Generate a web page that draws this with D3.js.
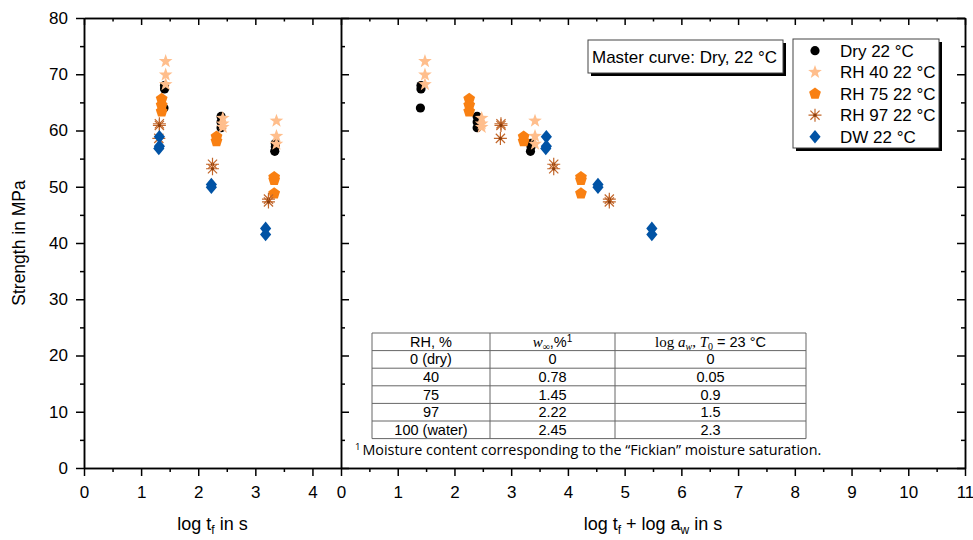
<!DOCTYPE html>
<html>
<head>
<meta charset="utf-8">
<script src="https://cdn.jsdelivr.net/npm/d3@7"></script>
<style>
  body { margin: 0; background: #fff; }
  svg { display: block; font-family: "Liberation Sans", Arial, sans-serif; }
</style>
</head>
<body>
<svg id="chart" width="973" height="540"></svg>
<script>
// ---- Data: failure time (log t_f, s) and strength (MPa) per conditioning ----
const seriesNames = ["Dry 22 °C", "RH 40 22 °C", "RH 75 22 °C", "RH 97 22 °C", "DW 22 °C"];

const dryLogT = [1.41, 1.41, 1.40, 2.40, 2.40, 2.40, 3.35, 3.35, 3.34];
const dryStrength = [68.0, 67.4, 64.0, 62.5, 61.5, 60.5, 57.7, 57.1, 56.3];

const rh40LogT = [1.43, 1.43, 1.43, 2.43, 2.43, 2.43, 3.37, 3.37, 3.37];
const rh40Strength = [72.3, 69.9, 68.2, 62.2, 61.2, 60.6, 61.7, 59.0, 57.6];

const rh75LogT = [1.36, 1.36, 1.36, 2.32, 2.32, 3.33, 3.33, 3.33];
const rh75Strength = [65.6, 64.5, 63.4, 58.9, 58.1, 51.7, 51.2, 48.8];

const rh97LogT = [1.32, 1.32, 1.31, 2.25, 2.25, 3.23, 3.23];
const rh97Strength = [61.2, 60.9, 58.6, 54.0, 53.2, 47.8, 47.3];

const dwLogT = [1.32, 1.32, 1.31, 2.23, 2.23, 3.18, 3.18];
const dwStrength = [58.9, 57.2, 56.8, 50.4, 49.9, 42.6, 41.5];

// Shift table (also printed in the inset table)
const tableRH = ["0 (dry)", "40", "75", "97", "100 (water)"];
const tableWInf = [0, 0.78, 1.45, 2.22, 2.45];
const tableLogAw = [0, 0.05, 0.9, 1.5, 2.3];

// Tick values
const yTicks = [0, 10, 20, 30, 40, 50, 60, 70, 80];
const xLeftTicks = [0, 1, 2, 3, 4];
const xRightTicks = [0, 1, 2, 3, 4, 5, 6, 7, 8, 9, 10, 11];

// ---- Styling ----
const colors = ["#000000", "#FFBE8C", "#F98012", "#C2672B", "#0153A5"];
const shapes = ["circle", "star", "pentagon", "asterisk", "diamond"];

const series = [
  { logT: dryLogT, s: dryStrength },
  { logT: rh40LogT, s: rh40Strength },
  { logT: rh75LogT, s: rh75Strength },
  { logT: rh97LogT, s: rh97Strength },
  { logT: dwLogT, s: dwStrength }
].map((d, i) => ({
  name: seriesNames[i], color: colors[i], shape: shapes[i], shift: tableLogAw[i],
  points: d.logT.map((t, j) => ({ t, v: d.s[j] }))
}));

const svg = d3.select("#chart");
const font = '"Liberation Sans", Arial, sans-serif';

const yTop = 18, yBot = 468;
const xL0 = 84, xMid = 341, xR1 = 965;

const y = d3.scaleLinear().domain([0, 80]).range([yBot, yTop]);
const xLeft = d3.scaleLinear().domain([0, 4.5]).range([xL0, xMid]);
const xRight = d3.scaleLinear().domain([0, 11]).range([xMid, xR1]);

const yMinor = d3.range(5, 80, 10);
const halfTicks = (max) => d3.range(0.5, max, 1);

function styleAxis(g, labelSize) {
  g.select(".domain").attr("stroke", "#000").attr("stroke-width", 1.5);
  g.selectAll(".tick line").attr("stroke", "#000").attr("stroke-width", 1.5);
  g.selectAll(".tick text").attr("font-family", font).attr("font-size", labelSize || 17).attr("fill", "#000");
  g.attr("font-family", font);
}

function addAxis(axisFn, scale, transform, major, minor, size, labels, pad) {
  const gMinor = svg.append("g").attr("transform", transform)
    .call(axisFn(scale).tickValues(minor).tickSizeInner(size / 2).tickSizeOuter(0).tickFormat(""));
  styleAxis(gMinor);
  const gMajor = svg.append("g").attr("transform", transform)
    .call(axisFn(scale).tickValues(major).tickSizeInner(size).tickSizeOuter(0)
      .tickPadding(pad || 8).tickFormat(labels ? d3.format("d") : ""));
  styleAxis(gMajor);
  return gMajor;
}

// Left panel axes
addAxis(d3.axisLeft, y, `translate(${xL0},0)`, yTicks, yMinor, 8, true, 8);
addAxis(d3.axisBottom, xLeft, `translate(0,${yBot})`, xLeftTicks, halfTicks(4.5), 8, true, 10);
addAxis(d3.axisTop, xLeft, `translate(0,${yTop})`, xLeftTicks, halfTicks(4.5), -7, false);

// Right panel axes (shared y at the divider, ticks inward)
addAxis(d3.axisRight, y, `translate(${xMid},0)`, yTicks, yMinor, 8, false);
addAxis(d3.axisLeft, y, `translate(${xR1},0)`, yTicks, yMinor, 8, false);
addAxis(d3.axisBottom, xRight, `translate(0,${yBot})`, xRightTicks, halfTicks(11), 8, true, 10);
addAxis(d3.axisTop, xRight, `translate(0,${yTop})`, xRightTicks, halfTicks(11), -7, false);

// ---- Marker shapes ----
function shapePath(shape) {
  const p = d3.path();
  if (shape === "circle") {
    p.arc(0, 0, 4.6, 0, 2 * Math.PI);
  } else if (shape === "star") {
    for (let k = 0; k < 10; k++) {
      const r = k % 2 ? 2.9 : 7.2;
      const a = -Math.PI / 2 + k * Math.PI / 5;
      k ? p.lineTo(r * Math.cos(a), r * Math.sin(a)) : p.moveTo(r * Math.cos(a), r * Math.sin(a));
    }
    p.closePath();
  } else if (shape === "pentagon") {
    for (let k = 0; k < 5; k++) {
      const a = -Math.PI / 2 + k * 2 * Math.PI / 5;
      k ? p.lineTo(6.2 * Math.cos(a), 6.2 * Math.sin(a)) : p.moveTo(6.2 * Math.cos(a), 6.2 * Math.sin(a));
    }
    p.closePath();
  } else if (shape === "diamond") {
    p.moveTo(0, -6.8); p.lineTo(5.6, 0); p.lineTo(0, 6.8); p.lineTo(-5.6, 0); p.closePath();
  } else if (shape === "asterisk") {
    for (let k = 0; k < 4; k++) {
      const a = k * Math.PI / 4;
      p.moveTo(-6.5 * Math.cos(a), -6.5 * Math.sin(a));
      p.lineTo(6.5 * Math.cos(a), 6.5 * Math.sin(a));
    }
  }
  return p.toString();
}

function drawMarker(g, shape, color, cx, cy) {
  const m = g.append("path").attr("d", shapePath(shape))
    .attr("transform", `translate(${cx},${cy})`);
  if (shape === "asterisk") {
    m.attr("fill", "none").attr("stroke", color).attr("stroke-width", 1.2);
    g.append("circle").attr("cx", cx).attr("cy", cy).attr("r", 1.6).attr("fill", "#8A3E0E");
  } else {
    m.attr("fill", color).attr("stroke", "none");
  }
}

// ---- Data points ----
const gLeft = svg.append("g");
const gRight = svg.append("g");
series.forEach(sr => {
  sr.points.forEach(pt => {
    drawMarker(gLeft, sr.shape, sr.color, xLeft(pt.t), y(pt.v));
    drawMarker(gRight, sr.shape, sr.color, xRight(pt.t + sr.shift), y(pt.v));
  });
});

// ---- Axis titles ----
svg.append("text")
  .attr("transform", `translate(25,${(yTop + yBot) / 2}) rotate(-90)`)
  .attr("text-anchor", "middle").attr("font-size", 17.5).attr("font-family", font)
  .text("Strength in MPa");

const tL = svg.append("text").attr("x", (xL0 + xMid) / 2).attr("y", 530)
  .attr("text-anchor", "middle").attr("font-size", 18).attr("font-family", font);
tL.append("tspan").text("log t");
tL.append("tspan").attr("font-size", 12).attr("dy", 4).text("f");
tL.append("tspan").attr("dy", -4).text(" in s");

const tR = svg.append("text").attr("x", (xMid + xR1) / 2).attr("y", 530)
  .attr("text-anchor", "middle").attr("font-size", 18).attr("font-family", font);
tR.append("tspan").text("log t");
tR.append("tspan").attr("font-size", 12).attr("dy", 4).text("f");
tR.append("tspan").attr("dy", -4).text(" + log a");
tR.append("tspan").attr("font-size", 12).attr("dy", 4).text("w");
tR.append("tspan").attr("dy", -4).text(" in s");

// ---- Master curve note ----
function shadowBox(x, yy, w, h) {
  svg.append("rect").attr("x", x + 3).attr("y", yy + 3).attr("width", w).attr("height", h).attr("fill", "#000");
  svg.append("rect").attr("x", x).attr("y", yy).attr("width", w).attr("height", h)
    .attr("fill", "#fff").attr("stroke", "#444").attr("stroke-width", 1);
}
shadowBox(588, 40, 195, 33);
svg.append("text").attr("x", 592).attr("y", 62.5).attr("font-size", 17).attr("font-family", font)
  .text("Master curve: Dry, 22 °C");

// ---- Legend ----
shadowBox(793, 39, 146, 109);
series.forEach((sr, i) => {
  const cy = 50.7 + i * 21.5;
  const g = svg.append("g");
  drawMarker(g, sr.shape, sr.color, 815, cy);
  svg.append("text").attr("x", 840).attr("y", cy + 6).attr("font-size", 17).attr("font-family", font)
    .text(sr.name);
});

// ---- Inset table ----
const colX = [372, 490, 615, 806];
const rowTop = 333, rowH = 17.6, nRows = tableRH.length + 1;
const tbl = svg.append("g");
for (let r = 0; r <= nRows; r++) {
  tbl.append("line").attr("x1", colX[0]).attr("x2", colX[3])
    .attr("y1", rowTop + r * rowH).attr("y2", rowTop + r * rowH)
    .attr("stroke", "#666").attr("stroke-width", 1);
}
colX.forEach(cx => {
  tbl.append("line").attr("x1", cx).attr("x2", cx)
    .attr("y1", rowTop).attr("y2", rowTop + nRows * rowH)
    .attr("stroke", "#666").attr("stroke-width", 1);
});
const colC = [0, 1, 2].map(i => (colX[i] + colX[i + 1]) / 2);
const cellY = r => rowTop + r * rowH + rowH / 2 + 5;
const serif = '"Liberation Serif", "DejaVu Serif", serif';

// header
tbl.append("text").attr("x", colC[0]).attr("y", cellY(0)).attr("text-anchor", "middle")
  .attr("font-size", 14.5).attr("font-family", font).text("RH, %");
const h2 = tbl.append("text").attr("x", colC[1]).attr("y", cellY(0)).attr("text-anchor", "middle")
  .attr("font-size", 14.5).attr("font-family", font);
h2.append("tspan").attr("font-family", serif).attr("font-style", "italic").attr("font-size", 15).text("w");
h2.append("tspan").attr("font-family", serif).attr("font-size", 10).attr("dy", 3).text("∞");
h2.append("tspan").attr("dy", -3).text(",%");
h2.append("tspan").attr("font-size", 10).attr("dy", -5).text("1");
const h3 = tbl.append("text").attr("x", colC[2]).attr("y", cellY(0)).attr("text-anchor", "middle")
  .attr("font-size", 14.5).attr("font-family", font);
h3.append("tspan").attr("font-family", serif).attr("font-size", 15).text("log ");
h3.append("tspan").attr("font-family", serif).attr("font-style", "italic").attr("font-size", 15).text("a");
h3.append("tspan").attr("font-family", serif).attr("font-style", "italic").attr("font-size", 10).attr("dy", 3).text("w");
h3.append("tspan").attr("font-family", serif).attr("font-size", 15).attr("dy", -3).text(", ");
h3.append("tspan").attr("font-family", serif).attr("font-style", "italic").attr("font-size", 15).text("T");
h3.append("tspan").attr("font-family", serif).attr("font-size", 10).attr("dy", 3).text("0");
h3.append("tspan").attr("dy", -3).text(" = 23 °C");

tableRH.forEach((rh, i) => {
  const rowVals = [rh, String(tableWInf[i]), String(tableLogAw[i])];
  rowVals.forEach((v, c) => {
    tbl.append("text").attr("x", colC[c]).attr("y", cellY(i + 1)).attr("text-anchor", "middle")
      .attr("font-size", 14.5).attr("font-family", font).text(v);
  });
});

// footnote
const fn = svg.append("text").attr("x", 355).attr("y", 455)
  .attr("font-family", '"Open Sans", "Noto Sans", sans-serif').attr("font-size", 13.5);
fn.append("tspan").attr("font-size", 9).attr("dy", -5).text("1");
const fnBody = fn.append("tspan").attr("dy", 5).attr("dx", 2)
  .text("Moisture content corresponding to the \u201CFickian\u201D moisture saturation.");
// fit the footnote to the table's width span
const fnW = fnBody.node().getComputedTextLength();
const targetW = 459;
fn.attr("font-size", 13.5 * targetW / fnW);
fn.select("tspan").attr("font-size", 9 * targetW / fnW);
</script>
</body>
</html>
